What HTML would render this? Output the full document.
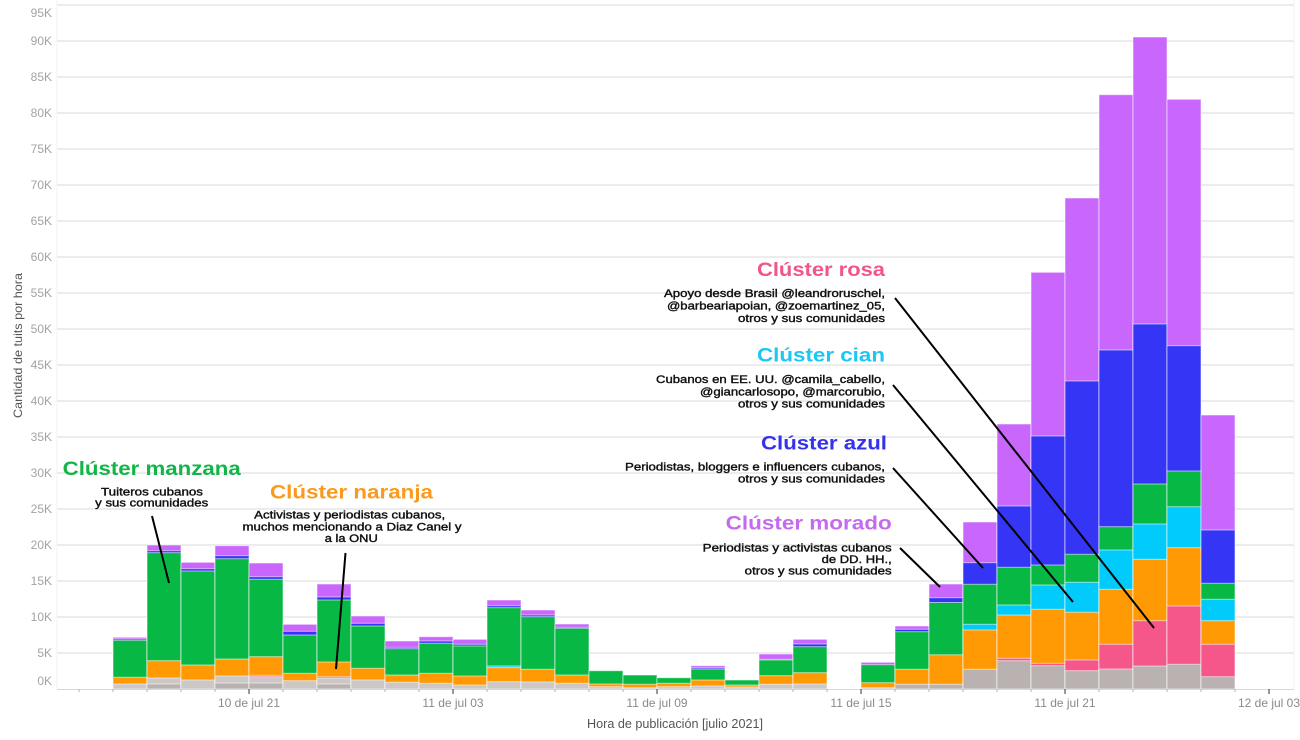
<!DOCTYPE html>
<html>
<head>
<meta charset="utf-8">
<style>
html,body{margin:0;padding:0;background:#fff;width:1300px;height:740px;overflow:hidden;}
svg{display:block;}
.p{fill:#c966fb}.b{fill:#3535f6}.g{fill:#07b845}.c{fill:#00cbfb}.o{fill:#ff9a05}.k{fill:#f5578b}.y{fill:#bab2b0}.yl{fill:#cdc7c5}
.bars rect{stroke:#ffffff;stroke-opacity:.55;stroke-width:1}
.yt{font-family:"Liberation Sans",sans-serif;font-size:12px;fill:#a3a3a3;text-anchor:end}
.xt{font-family:"Liberation Sans",sans-serif;font-size:12px;fill:#8a8a8a;text-anchor:middle}
.ttl{font-family:"Liberation Sans",sans-serif;font-size:19px;font-weight:bold}
.d{font-family:"Liberation Sans",sans-serif;font-size:11px;fill:#111;stroke:#111;stroke-width:.4}
</style>
</head>
<body>
<svg width="1300" height="740" viewBox="0 0 1300 740" xmlns="http://www.w3.org/2000/svg">
<!-- gridlines -->
<g stroke="#e1e1e1" stroke-width="1.2">
<line x1="57" x2="1294" y1="5" y2="5"/>
<line x1="57" x2="1294" y1="41" y2="41"/>
<line x1="57" x2="1294" y1="77" y2="77"/>
<line x1="57" x2="1294" y1="113" y2="113"/>
<line x1="57" x2="1294" y1="149" y2="149"/>
<line x1="57" x2="1294" y1="185" y2="185"/>
<line x1="57" x2="1294" y1="221" y2="221"/>
<line x1="57" x2="1294" y1="257" y2="257"/>
<line x1="57" x2="1294" y1="293" y2="293"/>
<line x1="57" x2="1294" y1="329" y2="329"/>
<line x1="57" x2="1294" y1="365" y2="365"/>
<line x1="57" x2="1294" y1="401" y2="401"/>
<line x1="57" x2="1294" y1="437" y2="437"/>
<line x1="57" x2="1294" y1="473" y2="473"/>
<line x1="57" x2="1294" y1="509" y2="509"/>
<line x1="57" x2="1294" y1="545" y2="545"/>
<line x1="57" x2="1294" y1="581" y2="581"/>
<line x1="57" x2="1294" y1="617" y2="617"/>
<line x1="57" x2="1294" y1="653" y2="653"/>
</g>
<line x1="57" x2="57" y1="0" y2="689" stroke="#f0f0f0" stroke-width="1"/>
<line x1="1294" x2="1294" y1="0" y2="689" stroke="#f0f0f0" stroke-width="1"/>
<!-- y labels -->
<g class="yt">
<text x="52" y="17">95K</text><text x="52" y="45">90K</text><text x="52" y="81">85K</text><text x="52" y="117">80K</text>
<text x="52" y="153">75K</text><text x="52" y="189">70K</text><text x="52" y="225">65K</text><text x="52" y="261">60K</text>
<text x="52" y="297">55K</text><text x="52" y="333">50K</text><text x="52" y="369">45K</text><text x="52" y="405">40K</text>
<text x="52" y="441">35K</text><text x="52" y="477">30K</text><text x="52" y="513">25K</text><text x="52" y="549">20K</text>
<text x="52" y="585">15K</text><text x="52" y="621">10K</text><text x="52" y="657">5K</text><text x="52" y="685">0K</text>
</g>
<!-- bars -->
<g class="bars">
<g><rect class="p" x="113" y="637.3" width="34" height="51.7"/><rect class="b" x="113" y="639" width="34" height="50"/><rect class="g" x="113" y="640.3" width="34" height="48.7"/><rect class="o" x="113" y="677.3" width="34" height="11.7"/><rect class="yl" x="113" y="684" width="34" height="5"/></g>
<g><rect class="p" x="147" y="545" width="34" height="144"/><rect class="b" x="147" y="550.7" width="34" height="138.3"/><rect class="g" x="147" y="552.7" width="34" height="136.3"/><rect class="o" x="147" y="660.7" width="34" height="28.3"/><rect class="yl" x="147" y="678" width="34" height="11"/><rect class="y" x="147" y="684" width="34" height="5"/></g>
<g><rect class="p" x="181" y="562.3" width="34" height="126.7"/><rect class="b" x="181" y="568.7" width="34" height="120.3"/><rect class="g" x="181" y="571" width="34" height="118"/><rect class="o" x="181" y="665" width="34" height="24"/><rect class="yl" x="181" y="680" width="34" height="9"/></g>
<g><rect class="p" x="215" y="545.7" width="34" height="143.3"/><rect class="b" x="215" y="555.7" width="34" height="133.3"/><rect class="g" x="215" y="558.7" width="34" height="130.3"/><rect class="o" x="215" y="659" width="34" height="30"/><rect class="yl" x="215" y="676" width="34" height="13"/><rect class="y" x="215" y="683" width="34" height="6"/></g>
<g><rect class="p" x="249" y="563" width="34" height="126"/><rect class="b" x="249" y="576.7" width="34" height="112.3"/><rect class="g" x="249" y="579.3" width="34" height="109.7"/><rect class="o" x="249" y="656.7" width="34" height="32.3"/><rect class="k" x="249" y="675.3" width="34" height="13.7"/><rect class="yl" x="249" y="676.7" width="34" height="12.3"/><rect class="y" x="249" y="683" width="34" height="6"/></g>
<g><rect class="p" x="283" y="624.3" width="34" height="64.7"/><rect class="b" x="283" y="631.3" width="34" height="57.7"/><rect class="g" x="283" y="635" width="34" height="54"/><rect class="o" x="283" y="673.3" width="34" height="15.7"/><rect class="yl" x="283" y="680.7" width="34" height="8.3"/></g>
<g><rect class="p" x="317" y="584" width="34" height="105"/><rect class="b" x="317" y="597" width="34" height="92"/><rect class="g" x="317" y="600" width="34" height="89"/><rect class="o" x="317" y="662" width="34" height="27"/><rect class="k" x="317" y="676.7" width="34" height="12.3"/><rect class="yl" x="317" y="678" width="34" height="11"/><rect class="y" x="317" y="684" width="34" height="5"/></g>
<g><rect class="p" x="351" y="616" width="34" height="73"/><rect class="b" x="351" y="623.3" width="34" height="65.7"/><rect class="g" x="351" y="626" width="34" height="63"/><rect class="o" x="351" y="668.3" width="34" height="20.7"/><rect class="yl" x="351" y="680" width="34" height="9"/></g>
<g><rect class="p" x="385" y="641" width="34" height="48"/><rect class="b" x="385" y="647.3" width="34" height="41.7"/><rect class="g" x="385" y="648.7" width="34" height="40.3"/><rect class="o" x="385" y="675" width="34" height="14"/><rect class="yl" x="385" y="682.3" width="34" height="6.7"/></g>
<g><rect class="p" x="419" y="636.7" width="34" height="52.3"/><rect class="b" x="419" y="641" width="34" height="48"/><rect class="g" x="419" y="643.3" width="34" height="45.7"/><rect class="o" x="419" y="673.3" width="34" height="15.7"/><rect class="yl" x="419" y="683.3" width="34" height="5.7"/></g>
<g><rect class="p" x="453" y="639.3" width="34" height="49.7"/><rect class="b" x="453" y="644.3" width="34" height="44.7"/><rect class="g" x="453" y="646" width="34" height="43"/><rect class="o" x="453" y="676" width="34" height="13"/><rect class="yl" x="453" y="685" width="34" height="4"/></g>
<g><rect class="p" x="487" y="600" width="34" height="89"/><rect class="b" x="487" y="605.7" width="34" height="83.3"/><rect class="g" x="487" y="607.7" width="34" height="81.3"/><rect class="c" x="487" y="666" width="34" height="23"/><rect class="o" x="487" y="667.7" width="34" height="21.3"/><rect class="yl" x="487" y="681.7" width="34" height="7.3"/></g>
<g><rect class="p" x="521" y="610" width="34" height="79"/><rect class="b" x="521" y="615" width="34" height="74"/><rect class="g" x="521" y="616.7" width="34" height="72.3"/><rect class="o" x="521" y="669.3" width="34" height="19.7"/><rect class="yl" x="521" y="682" width="34" height="7"/></g>
<g><rect class="p" x="555" y="624" width="34" height="65"/><rect class="b" x="555" y="627.3" width="34" height="61.7"/><rect class="g" x="555" y="628.3" width="34" height="60.7"/><rect class="o" x="555" y="675" width="34" height="14"/><rect class="yl" x="555" y="683.3" width="34" height="5.7"/></g>
<g><rect class="g" x="589" y="670.7" width="34" height="18.3"/><rect class="o" x="589" y="684" width="34" height="5"/><rect class="yl" x="589" y="686.7" width="34" height="2.3"/></g>
<g><rect class="g" x="623" y="675" width="34" height="14"/><rect class="o" x="623" y="684.3" width="34" height="4.7"/><rect class="yl" x="623" y="687.7" width="34" height="1.3"/></g>
<g><rect class="g" x="657" y="677.7" width="34" height="11.3"/><rect class="o" x="657" y="683.3" width="34" height="5.7"/><rect class="yl" x="657" y="686.7" width="34" height="2.3"/></g>
<g><rect class="p" x="691" y="665.7" width="34" height="23.3"/><rect class="b" x="691" y="667.7" width="34" height="21.3"/><rect class="g" x="691" y="669" width="34" height="20"/><rect class="o" x="691" y="680" width="34" height="9"/><rect class="yl" x="691" y="686" width="34" height="3"/></g>
<g><rect class="g" x="725" y="680" width="34" height="9"/><rect class="o" x="725" y="685" width="34" height="4"/><rect class="yl" x="725" y="687" width="34" height="2"/></g>
<g><rect class="p" x="759" y="654" width="34" height="35"/><rect class="b" x="759" y="659.3" width="34" height="29.7"/><rect class="g" x="759" y="660" width="34" height="29"/><rect class="o" x="759" y="675.7" width="34" height="13.3"/><rect class="yl" x="759" y="684.3" width="34" height="4.7"/></g>
<g><rect class="p" x="793" y="639.3" width="34" height="49.7"/><rect class="b" x="793" y="644" width="34" height="45"/><rect class="g" x="793" y="646.7" width="34" height="42.3"/><rect class="o" x="793" y="672.7" width="34" height="16.3"/><rect class="yl" x="793" y="684" width="34" height="5"/></g>
<g><rect class="p" x="861" y="662.3" width="34" height="26.7"/><rect class="g" x="861" y="664.7" width="34" height="24.3"/><rect class="o" x="861" y="682.7" width="34" height="6.3"/><rect class="yl" x="861" y="687.7" width="34" height="1.3"/></g>
<g><rect class="p" x="895" y="626" width="34" height="63"/><rect class="b" x="895" y="629.3" width="34" height="59.7"/><rect class="g" x="895" y="631.7" width="34" height="57.3"/><rect class="o" x="895" y="669.3" width="34" height="19.7"/><rect class="y" x="895" y="684.3" width="34" height="4.7"/></g>
<g><rect class="p" x="929" y="584" width="34" height="105"/><rect class="b" x="929" y="597.7" width="34" height="91.3"/><rect class="g" x="929" y="602.5" width="34" height="86.5"/><rect class="o" x="929" y="654.8" width="34" height="34.2"/><rect class="y" x="929" y="684.3" width="34" height="4.7"/></g>
<g><rect class="p" x="963" y="522" width="34" height="167"/><rect class="b" x="963" y="562.7" width="34" height="126.3"/><rect class="g" x="963" y="584.3" width="34" height="104.7"/><rect class="c" x="963" y="624.3" width="34" height="64.7"/><rect class="o" x="963" y="630" width="34" height="59"/><rect class="y" x="963" y="669.3" width="34" height="19.7"/></g>
<g><rect class="p" x="997" y="424" width="34" height="265"/><rect class="b" x="997" y="506" width="34" height="183"/><rect class="g" x="997" y="567.3" width="34" height="121.7"/><rect class="c" x="997" y="605" width="34" height="84"/><rect class="o" x="997" y="615" width="34" height="74"/><rect class="k" x="997" y="658.3" width="34" height="30.7"/><rect class="y" x="997" y="660.7" width="34" height="28.3"/></g>
<g><rect class="p" x="1031" y="272.3" width="34" height="416.7"/><rect class="b" x="1031" y="436" width="34" height="253"/><rect class="g" x="1031" y="565" width="34" height="124"/><rect class="c" x="1031" y="585" width="34" height="104"/><rect class="o" x="1031" y="609.3" width="34" height="79.7"/><rect class="k" x="1031" y="663.3" width="34" height="25.7"/><rect class="y" x="1031" y="665.7" width="34" height="23.3"/></g>
<g><rect class="p" x="1065" y="198" width="34" height="491"/><rect class="b" x="1065" y="381" width="34" height="308"/><rect class="g" x="1065" y="554.3" width="34" height="134.7"/><rect class="c" x="1065" y="582.3" width="34" height="106.7"/><rect class="o" x="1065" y="612.3" width="34" height="76.7"/><rect class="k" x="1065" y="660" width="34" height="29"/><rect class="y" x="1065" y="670.7" width="34" height="18.3"/></g>
<g><rect class="p" x="1099" y="94.7" width="34" height="594.3"/><rect class="b" x="1099" y="350" width="34" height="339"/><rect class="g" x="1099" y="526.7" width="34" height="162.3"/><rect class="c" x="1099" y="550" width="34" height="139"/><rect class="o" x="1099" y="589.3" width="34" height="99.7"/><rect class="k" x="1099" y="644.3" width="34" height="44.7"/><rect class="y" x="1099" y="669" width="34" height="20"/></g>
<g><rect class="p" x="1133" y="37" width="34" height="652"/><rect class="b" x="1133" y="324" width="34" height="365"/><rect class="g" x="1133" y="484" width="34" height="205"/><rect class="c" x="1133" y="524" width="34" height="165"/><rect class="o" x="1133" y="559.3" width="34" height="129.7"/><rect class="k" x="1133" y="620.7" width="34" height="68.3"/><rect class="y" x="1133" y="666" width="34" height="23"/></g>
<g><rect class="p" x="1167" y="99.3" width="34" height="589.7"/><rect class="b" x="1167" y="345.7" width="34" height="343.3"/><rect class="g" x="1167" y="471" width="34" height="218"/><rect class="c" x="1167" y="506.7" width="34" height="182.3"/><rect class="o" x="1167" y="547.7" width="34" height="141.3"/><rect class="k" x="1167" y="606" width="34" height="83"/><rect class="y" x="1167" y="664.3" width="34" height="24.7"/></g>
<g><rect class="p" x="1201" y="415" width="34" height="274"/><rect class="b" x="1201" y="530" width="34" height="159"/><rect class="g" x="1201" y="583.3" width="34" height="105.7"/><rect class="c" x="1201" y="599.3" width="34" height="89.7"/><rect class="o" x="1201" y="620.7" width="34" height="68.3"/><rect class="k" x="1201" y="644.3" width="34" height="44.7"/><rect class="y" x="1201" y="676.7" width="34" height="12.3"/></g>
</g>
<!-- x axis -->
<line x1="57" x2="1294" y1="689.5" y2="689.5" stroke="#d8d8d8" stroke-width="1"/>
<g stroke="#b5b5b5" stroke-width="1">
<line x1="79" x2="79" y1="689" y2="692"/><line x1="113" x2="113" y1="689" y2="692"/><line x1="147" x2="147" y1="689" y2="692"/><line x1="181" x2="181" y1="689" y2="692"/><line x1="215" x2="215" y1="689" y2="692"/>
<line x1="283" x2="283" y1="689" y2="692"/><line x1="317" x2="317" y1="689" y2="692"/><line x1="351" x2="351" y1="689" y2="692"/><line x1="385" x2="385" y1="689" y2="692"/><line x1="419" x2="419" y1="689" y2="692"/>
<line x1="487" x2="487" y1="689" y2="692"/><line x1="521" x2="521" y1="689" y2="692"/><line x1="555" x2="555" y1="689" y2="692"/><line x1="589" x2="589" y1="689" y2="692"/><line x1="623" x2="623" y1="689" y2="692"/>
<line x1="691" x2="691" y1="689" y2="692"/><line x1="725" x2="725" y1="689" y2="692"/><line x1="759" x2="759" y1="689" y2="692"/><line x1="793" x2="793" y1="689" y2="692"/><line x1="827" x2="827" y1="689" y2="692"/>
<line x1="895" x2="895" y1="689" y2="692"/><line x1="929" x2="929" y1="689" y2="692"/><line x1="963" x2="963" y1="689" y2="692"/><line x1="997" x2="997" y1="689" y2="692"/><line x1="1031" x2="1031" y1="689" y2="692"/>
<line x1="1099" x2="1099" y1="689" y2="692"/><line x1="1133" x2="1133" y1="689" y2="692"/><line x1="1167" x2="1167" y1="689" y2="692"/><line x1="1201" x2="1201" y1="689" y2="692"/><line x1="1235" x2="1235" y1="689" y2="692"/>
</g>
<g stroke="#555" stroke-width="1.2">
<line x1="249" x2="249" y1="689" y2="694"/><line x1="453" x2="453" y1="689" y2="694"/><line x1="657" x2="657" y1="689" y2="694"/><line x1="861" x2="861" y1="689" y2="694"/><line x1="1065" x2="1065" y1="689" y2="694"/><line x1="1269" x2="1269" y1="689" y2="694"/>
</g>
<g class="xt">
<text x="249" y="707">10 de jul 21</text>
<text x="453" y="707">11 de jul 03</text>
<text x="657" y="707">11 de jul 09</text>
<text x="861" y="707">11 de jul 15</text>
<text x="1065" y="707">11 de jul 21</text>
<text x="1269" y="707">12 de jul 03</text>
</g>
<text x="675" y="728" font-family="Liberation Sans, sans-serif" font-size="13" fill="#555" text-anchor="middle" textLength="176" lengthAdjust="spacingAndGlyphs">Hora de publicación [julio 2021]</text>
<text transform="translate(22,345.5) rotate(-90)" font-family="Liberation Sans, sans-serif" font-size="12" fill="#555" text-anchor="middle" textLength="145" lengthAdjust="spacingAndGlyphs">Cantidad de tuits por hora</text>

<!-- annotation lines -->
<g stroke="#000" stroke-width="2" fill="none">
<line x1="152" y1="516" x2="169" y2="583"/>
<line x1="345.5" y1="553" x2="336" y2="669"/>
<line x1="900" y1="548" x2="940" y2="587"/>
<line x1="893" y1="468" x2="983" y2="568"/>
<line x1="893" y1="385" x2="1073" y2="602"/>
<line x1="895" y1="298" x2="1154" y2="628"/>
</g>

<!-- annotations -->
<text class="ttl" x="885" y="276" fill="#f0568a" text-anchor="end" textLength="128" lengthAdjust="spacingAndGlyphs">Clúster rosa</text>
<text class="d" x="885" y="297" text-anchor="end" textLength="221" lengthAdjust="spacingAndGlyphs">Apoyo desde Brasil @leandroruschel,</text>
<text class="d" x="885" y="309.5" text-anchor="end" textLength="218" lengthAdjust="spacingAndGlyphs">@barbeariapoian, @zoemartinez_05,</text>
<text class="d" x="885" y="322" text-anchor="end" textLength="147" lengthAdjust="spacingAndGlyphs">otros y sus comunidades</text>

<text class="ttl" x="885" y="361.7" fill="#1cc6f5" text-anchor="end" textLength="128" lengthAdjust="spacingAndGlyphs">Clúster cian</text>
<text class="d" x="885" y="383" text-anchor="end" textLength="229" lengthAdjust="spacingAndGlyphs">Cubanos en EE. UU.  @camila_cabello,</text>
<text class="d" x="885" y="395.3" text-anchor="end" textLength="185" lengthAdjust="spacingAndGlyphs">@giancarlosopo, @marcorubio,</text>
<text class="d" x="885" y="407.6" text-anchor="end" textLength="147" lengthAdjust="spacingAndGlyphs">otros y sus comunidades</text>

<text class="ttl" x="887" y="449.3" fill="#3333ee" text-anchor="end" textLength="126" lengthAdjust="spacingAndGlyphs">Clúster azul</text>
<text class="d" x="885" y="470.7" text-anchor="end" textLength="260" lengthAdjust="spacingAndGlyphs">Periodistas, bloggers e influencers cubanos,</text>
<text class="d" x="885" y="482.3" text-anchor="end" textLength="147" lengthAdjust="spacingAndGlyphs">otros y sus comunidades</text>

<text class="ttl" x="891.7" y="529.3" fill="#c56af0" text-anchor="end" textLength="166" lengthAdjust="spacingAndGlyphs">Clúster morado</text>
<text class="d" x="891.7" y="551.7" text-anchor="end" textLength="189" lengthAdjust="spacingAndGlyphs">Periodistas y activistas cubanos</text>
<text class="d" x="891.7" y="563.2" text-anchor="end" textLength="70" lengthAdjust="spacingAndGlyphs">de DD. HH.,</text>
<text class="d" x="891.7" y="574.6" text-anchor="end" textLength="147" lengthAdjust="spacingAndGlyphs">otros y sus comunidades</text>

<text class="ttl" x="62.7" y="475" fill="#11b548" textLength="178" lengthAdjust="spacingAndGlyphs">Clúster manzana</text>
<text class="d" x="152" y="495.5" text-anchor="middle" textLength="102" lengthAdjust="spacingAndGlyphs">Tuiteros cubanos</text>
<text class="d" x="151.7" y="506.5" text-anchor="middle" textLength="113" lengthAdjust="spacingAndGlyphs">y sus comunidades</text>

<text class="ttl" x="270" y="498.3" fill="#f99a1e" textLength="163" lengthAdjust="spacingAndGlyphs">Clúster naranja</text>
<text class="d" x="349.7" y="518.3" text-anchor="middle" textLength="191" lengthAdjust="spacingAndGlyphs">Activistas y periodistas cubanos,</text>
<text class="d" x="352" y="530.5" text-anchor="middle" textLength="219" lengthAdjust="spacingAndGlyphs">muchos mencionando a Diaz Canel y</text>
<text class="d" x="351.3" y="542" text-anchor="middle" textLength="53" lengthAdjust="spacingAndGlyphs">a la ONU</text>
</svg>
</body>
</html>
